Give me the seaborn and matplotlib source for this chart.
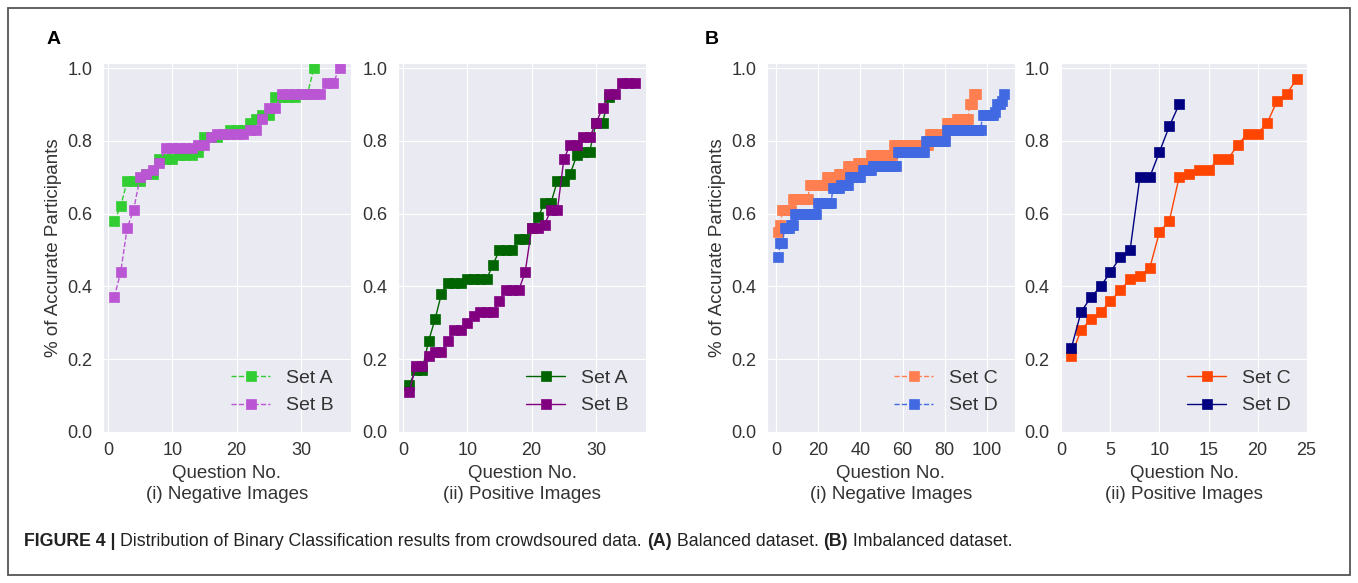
import matplotlib
matplotlib.use("Agg")
import matplotlib.pyplot as plt
import seaborn as sns
from matplotlib.patches import Rectangle

# (A) balanced dataset - share of accurate participants per question
neg_set_a = [0.58, 0.62, 0.69, 0.69, 0.69, 0.71, 0.71, 0.75, 0.75, 0.75,
             0.76, 0.76, 0.76, 0.77, 0.81, 0.81, 0.81, 0.82, 0.83, 0.83,
             0.83, 0.85, 0.86, 0.87, 0.87, 0.92, 0.92, 0.92, 0.92, 0.93,
             0.93, 1.00]
neg_set_b = [0.37, 0.44, 0.56, 0.61, 0.70, 0.71, 0.72, 0.74, 0.78, 0.78,
             0.78, 0.78, 0.78, 0.79, 0.79, 0.81, 0.82, 0.82, 0.82, 0.82,
             0.82, 0.83, 0.83, 0.86, 0.89, 0.89, 0.93, 0.93, 0.93, 0.93,
             0.93, 0.93, 0.93, 0.96, 0.96, 1.00]
pos_set_a = [0.13, 0.17, 0.17, 0.25, 0.31, 0.38, 0.41, 0.41, 0.41, 0.42,
             0.42, 0.42, 0.42, 0.46, 0.50, 0.50, 0.50, 0.53, 0.53, 0.56,
             0.59, 0.63, 0.63, 0.69, 0.69, 0.71, 0.76, 0.77, 0.77, 0.85,
             0.85, 0.92]
pos_set_b = [0.11, 0.18, 0.18, 0.21, 0.22, 0.22, 0.25, 0.28, 0.28, 0.30,
             0.32, 0.33, 0.33, 0.33, 0.36, 0.39, 0.39, 0.39, 0.44, 0.56,
             0.56, 0.57, 0.61, 0.61, 0.75, 0.79, 0.79, 0.81, 0.81, 0.85,
             0.89, 0.93, 0.93, 0.96, 0.96, 0.96]

# (B) imbalanced dataset
neg_set_c = [0.55, 0.57, 0.61, 0.61, 0.61, 0.61, 0.61, 0.64, 0.64, 0.64,
             0.64, 0.64, 0.64, 0.64, 0.64, 0.68, 0.68, 0.68, 0.68, 0.68,
             0.68, 0.68, 0.68, 0.70, 0.70, 0.70, 0.70, 0.70, 0.70, 0.71,
             0.71, 0.71, 0.71, 0.73, 0.73, 0.73, 0.73, 0.73, 0.74, 0.74,
             0.74, 0.74, 0.74, 0.74, 0.76, 0.76, 0.76, 0.76, 0.76, 0.76,
             0.76, 0.76, 0.76, 0.76, 0.76, 0.79, 0.79, 0.79, 0.79, 0.79,
             0.79, 0.79, 0.79, 0.79, 0.79, 0.79, 0.79, 0.79, 0.79, 0.79,
             0.79, 0.79, 0.82, 0.82, 0.82, 0.82, 0.82, 0.82, 0.82, 0.82,
             0.85, 0.85, 0.85, 0.85, 0.85, 0.86, 0.86, 0.86, 0.86, 0.86,
             0.86, 0.90, 0.90, 0.93, 0.93]
neg_set_d = [0.48, 0.52, 0.52, 0.56, 0.56, 0.56, 0.57, 0.57, 0.60, 0.60,
             0.60, 0.60, 0.60, 0.60, 0.60, 0.60, 0.60, 0.60, 0.60, 0.63,
             0.63, 0.63, 0.63, 0.63, 0.63, 0.63, 0.67, 0.67, 0.67, 0.67,
             0.68, 0.68, 0.68, 0.68, 0.70, 0.70, 0.70, 0.70, 0.70, 0.70,
             0.72, 0.72, 0.72, 0.72, 0.72, 0.73, 0.73, 0.73, 0.73, 0.73,
             0.73, 0.73, 0.73, 0.73, 0.73, 0.73, 0.73, 0.77, 0.77, 0.77,
             0.77, 0.77, 0.77, 0.77, 0.77, 0.77, 0.77, 0.77, 0.77, 0.77,
             0.80, 0.80, 0.80, 0.80, 0.80, 0.80, 0.80, 0.80, 0.80, 0.80,
             0.83, 0.83, 0.83, 0.83, 0.83, 0.83, 0.83, 0.83, 0.83, 0.83,
             0.83, 0.83, 0.83, 0.83, 0.83, 0.83, 0.83, 0.87, 0.87, 0.87,
             0.87, 0.87, 0.87, 0.88, 0.90, 0.90, 0.91, 0.93]
pos_set_c = [0.21, 0.28, 0.31, 0.33, 0.36, 0.39, 0.42, 0.43, 0.45, 0.55,
             0.58, 0.70, 0.71, 0.72, 0.72, 0.75, 0.75, 0.79, 0.82, 0.82,
             0.85, 0.91, 0.93, 0.97]
pos_set_d = [0.23, 0.33, 0.37, 0.40, 0.44, 0.48, 0.50, 0.70, 0.70, 0.77,
             0.84, 0.90]

W, H = 1358, 583
sns.set_style("darkgrid")
plt.rcParams["font.family"] = ["Liberation Sans", "DejaVu Sans"]
plt.rcParams["text.color"] = "#333333"
plt.rcParams["axes.labelcolor"] = "#333333"
plt.rcParams["xtick.color"] = "#333333"
plt.rcParams["ytick.color"] = "#333333"

fig = plt.figure(figsize=(W / 100, H / 100), dpi=100)

panels = [
    (103, [(neg_set_a, "Set A", "limegreen"), (neg_set_b, "Set B", "mediumorchid")],
     "--", [0, 10, 20, 30], "(i) Negative Images", True),
    (398, [(pos_set_a, "Set A", "darkgreen"), (pos_set_b, "Set B", "purple")],
     "-", [0, 10, 20, 30], "(ii) Positive Images", False),
    (767, [(neg_set_c, "Set C", "coral"), (neg_set_d, "Set D", "royalblue")],
     "--", [0, 20, 40, 60, 80, 100], "(i) Negative Images", True),
    (1060, [(pos_set_c, "Set C", "orangered"), (pos_set_d, "Set D", "navy")],
     "-", [0, 5, 10, 15, 20, 25], "(ii) Positive Images", False),
]

for left, series, ls, xticks, sub, show_ylabel in panels:
    ax = fig.add_axes([left / W, 1 - 432 / H, 248 / W, 369 / H])
    for vals, name, col in series:
        q = list(range(1, len(vals) + 1))
        sns.lineplot(x=q, y=vals, ax=ax, color=col, linestyle=ls, linewidth=1,
                     marker="s", markersize=6.5, markeredgecolor=col,
                     markeredgewidth=0.5, label=name)
    ax.set_ylim(0, 1.014)
    ax.set_yticks([0, 0.2, 0.4, 0.6, 0.8, 1.0])
    ax.set_yticklabels(["0.0", "0.2", "0.4", "0.6", "0.8", "1.0"])
    ax.set_xticks(xticks)
    ax.tick_params(labelsize=13, pad=4)
    ax.set_xlabel("Question No.\n" + sub, fontsize=13.5, linespacing=1.3)
    if show_ylabel:
        ax.set_ylabel("% of Accurate Participants", fontsize=13.5)
    else:
        ax.set_ylabel("")
    ax.legend(loc="lower right", fontsize=14, frameon=False)

fig.text(54 / W, 1 - 40 / H, "A", fontsize=14, fontweight="bold",
         color="black", ha="center", va="center")
fig.text(712 / W, 1 - 40 / H, "B", fontsize=14, fontweight="bold",
         color="black", ha="center", va="center")

# caption with mixed bold runs
renderer = fig.canvas.get_renderer()
parts = [("FIGURE 4 |", "bold"), (" ", "normal"),
         ("Distribution of Binary Classification results from crowdsoured data. ", "normal"),
         ("(A)", "bold"), (" Balanced dataset. ", "normal"),
         ("(B)", "bold"), (" Imbalanced dataset.", "normal")]
x = 24 / W
for s, w in parts:
    t = fig.text(x, 1 - 541 / H, s, fontsize=12.8, fontweight=w,
                 color="#222222", va="center", ha="left")
    x += t.get_window_extent(renderer).width / W

fig.patches.append(Rectangle((8 / W, 1 - 575 / H), 1342 / W, 567 / H,
                             transform=fig.transFigure, fill=False,
                             edgecolor="#555555", linewidth=1.3))

fig.savefig("out.png", dpi=100)
